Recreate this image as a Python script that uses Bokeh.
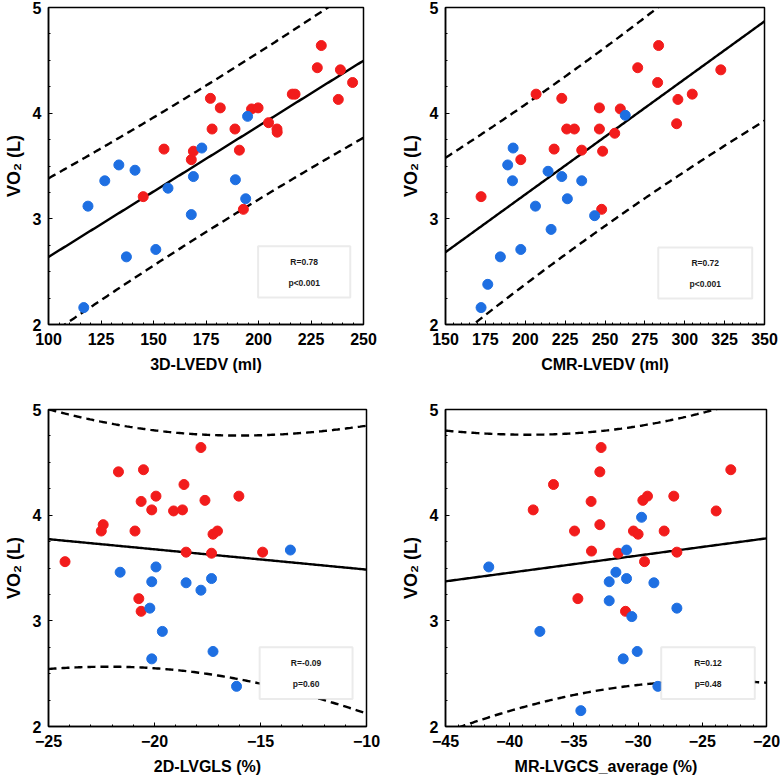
import numpy as np
from bokeh.plotting import figure
from bokeh.layouts import column, row
from bokeh.models import BoxAnnotation, Label, FixedTicker
from bokeh.embed import file_html
from bokeh.resources import INLINE

# ---------------- data ----------------
# Panel A: 3D-LVEDV (ml) vs VO2 (L)
a_blue_x = [116.8, 118.8, 126.8, 133.5, 141.2, 137.1, 151.1, 156.9, 168.0, 169.0, 173.0, 189.0, 193.9, 194.8]
a_blue_y = [2.16, 3.12, 3.36, 3.51, 3.46, 2.64, 2.71, 3.29, 3.04, 3.40, 3.67, 3.37, 3.19, 3.97]
a_red_x = [145.1, 155.0, 168.0, 169.0, 177.1, 177.9, 181.8, 188.8, 190.9, 192.8, 196.7, 199.8,
           204.8, 208.8, 208.9, 216.1, 217.4, 228.0, 229.9, 238.0, 239.0, 244.8]
a_red_y = [3.21, 3.66, 3.56, 3.64, 4.14, 3.85, 4.05, 3.85, 3.65, 3.09, 4.04, 4.05,
           3.91, 3.85, 3.82, 4.18, 4.18, 4.43, 4.64, 4.13, 4.41, 4.29]

# Panel B: CMR-LVEDV (ml) vs VO2 (L)
b_blue_x = [172.3, 176.5, 184.4, 189.0, 192.0, 192.4, 197.2, 206.4, 214.3, 216.2, 222.9, 226.4, 235.4, 243.5, 262.7]
b_blue_y = [2.16, 2.38, 2.64, 3.51, 3.36, 3.67, 2.71, 3.12, 3.45, 2.90, 3.40, 3.19, 3.36, 3.03, 3.98]
b_red_x = [172.3, 197.2, 206.8, 218.1, 222.9, 226.0, 230.8, 235.4, 246.5, 246.5, 247.9, 248.5,
           256.1, 259.6, 270.5, 283.0, 283.6, 294.9, 295.7, 304.7, 322.6]
b_red_y = [3.21, 3.56, 4.18, 3.66, 4.14, 3.85, 3.85, 3.65, 4.05, 3.85, 3.09, 3.64,
           3.81, 4.04, 4.43, 4.29, 4.64, 3.90, 4.13, 4.18, 4.41]

# Panel C: 2D-LVGLS (%) vs VO2 (L)
c_blue_x = [-21.62, -20.13, -19.93, -20.22, -19.63, -20.13, -18.51, -17.81, -17.31, -17.24, -16.13, -13.59]
c_blue_y = [3.46, 3.37, 3.51, 3.12, 2.90, 2.64, 3.36, 3.29, 3.40, 2.71, 2.38, 3.67]
c_red_x = [-24.22, -22.51, -22.42, -21.70, -20.92, -20.74, -20.63, -20.63, -20.52, -20.13, -19.93,
           -19.10, -18.68, -18.61, -18.51, -17.81, -17.62, -17.31, -17.24, -17.03, -16.02, -14.90]
c_red_y = [3.56, 3.85, 3.91, 4.41, 3.85, 3.21, 4.13, 3.09, 4.43, 4.05, 4.18,
           4.04, 4.05, 4.29, 3.65, 4.64, 4.14, 3.64, 3.82, 3.85, 4.18, 3.65]

# Panel D: MR-LVGCS_average (%) vs VO2 (L)
d_blue_x = [-41.63, -37.65, -34.46, -32.25, -32.25, -31.73, -31.16, -30.90, -30.90, -30.49,
            -30.07, -29.73, -28.77, -28.46, -26.98]
d_blue_y = [3.51, 2.90, 2.15, 3.37, 3.19, 3.46, 2.64, 3.67, 3.40, 3.04, 2.71, 3.98, 3.36, 2.38, 3.12]
d_red_x = [-38.17, -36.59, -34.95, -34.69, -33.66, -33.63, -32.98, -32.88, -32.98, -31.55, -30.98,
           -30.36, -30.00, -29.63, -29.50, -29.27, -27.97, -27.22, -26.98, -23.92, -22.78]
d_red_y = [4.05, 4.29, 3.85, 3.21, 4.13, 3.66, 4.41, 4.64, 3.91, 3.64, 3.09,
           3.85, 3.82, 4.14, 3.56, 4.18, 3.85, 4.18, 3.65, 4.04, 4.43]

x_titles = ["3D-LVEDV (ml)", "CMR-LVEDV (ml)", "2D-LVGLS (%)", "MR-LVGCS_average (%)"]
y_title = "VO\u2082 (L)"
r_texts = ["R=0.78", "R=0.72", "R=-0.09", "R=0.12"]
p_texts = ["p<0.001", "p<0.001", "p=0.60", "p=0.48"]

a_xticks = [100, 125, 150, 175, 200, 225, 250]
b_xticks = [150, 175, 200, 225, 250, 275, 300, 325, 350]
c_xticks = [-25, -20, -15, -10]
d_xticks = [-45, -40, -35, -30, -25, -20]
y_ticks = [2, 3, 4, 5]

RED = "#f21c1c"
BLUE = "#1e6fe2"
FONT = "Liberation Sans"


def band(x, y, xs, t=2.03):
    x = np.asarray(x, float)
    y = np.asarray(y, float)
    n = len(x)
    slope, icpt = np.polyfit(x, y, 1)
    resid = y - (icpt + slope * x)
    s = np.sqrt(np.sum(resid ** 2) / (n - 2))
    xbar = x.mean()
    sxx = np.sum((x - xbar) ** 2)
    yhat = icpt + slope * xs
    half = t * s * np.sqrt(1 + 1 / n + (xs - xbar) ** 2 / sxx)
    return yhat, yhat + half, yhat - half


def panel(bx, by, rx, ry, xrange_, xticks, xminor, xtitle, rtxt, ptxt, box, txt_y,
          bl, br, bt, bb, w, h):
    p = figure(x_range=xrange_, y_range=(2, 5), width=w, height=h,
               min_border_left=bl, min_border_right=br, min_border_top=bt, min_border_bottom=bb,
               output_backend="svg", toolbar_location=None, tools="")
    p.grid.visible = False
    p.outline_line_color = "black"
    p.outline_line_width = 1.5
    p.background_fill_color = "white"
    p.border_fill_color = "white"

    allx = list(bx) + list(rx)
    ally = list(by) + list(ry)
    xs = np.linspace(xrange_[0], xrange_[1], 200)
    yhat, up, lo = band(allx, ally, xs)
    p.line(xs, yhat, line_color="black", line_width=2.4)
    p.line(xs, up, line_color="black", line_width=2.4, line_dash="8 5")
    p.line(xs, lo, line_color="black", line_width=2.4, line_dash="8 5")

    p.scatter(rx, ry, size=10, fill_color=RED, line_color=RED)
    p.scatter(bx, by, size=10, fill_color=BLUE, line_color=BLUE)

    p.add_layout(BoxAnnotation(left=box[0], right=box[1], bottom=box[2], top=box[3],
                               fill_color="white", fill_alpha=1.0,
                               line_color="#bcbcbc", line_width=2))
    cx = (box[0] + box[1]) / 2
    for t, yy in zip([rtxt, ptxt], txt_y):
        p.add_layout(Label(x=cx, y=yy, text=t, text_align="center", text_baseline="middle",
                           text_font_size="8.5px", text_font_style="bold",
                           text_font=FONT, text_color="#1a1a1a"))

    yminor = [2 + 0.25 * i for i in range(13)]
    p.xaxis.ticker = FixedTicker(ticks=xticks, minor_ticks=xminor)
    p.yaxis.ticker = FixedTicker(ticks=y_ticks, minor_ticks=yminor)
    for ax in (p.xaxis[0], p.yaxis[0]):
        ax.major_tick_in = 4
        ax.major_tick_out = 0
        ax.minor_tick_in = 2
        ax.minor_tick_out = 0
        ax.axis_line_width = 1.5
        ax.major_label_text_font = FONT
        ax.major_label_text_font_style = "bold"
        ax.major_label_text_font_size = "16px"
        ax.major_label_text_color = "black"
        ax.axis_label_text_font = FONT
        ax.axis_label_text_font_style = "bold"
        ax.axis_label_text_color = "black"
    p.xaxis.axis_label_text_font_size = "16px"
    p.yaxis.axis_label_text_font_size = "18px"
    p.xaxis.axis_label = xtitle
    p.yaxis.axis_label = y_title
    p.xaxis.major_label_standoff = 8
    p.xaxis.axis_label_standoff = 8
    p.yaxis.major_label_standoff = 7
    p.yaxis.axis_label_standoff = 6
    return p


p1 = panel(a_blue_x, a_blue_y, a_red_x, a_red_y, (100, 250), a_xticks, list(range(100, 251, 5)),
           x_titles[0], r_texts[0], p_texts[0], (199.8, 243.7, 2.255, 2.74), (2.59, 2.39),
           44, 27, 7, 66, 390, 390)
p2 = panel(b_blue_x, b_blue_y, b_red_x, b_red_y, (150, 350), b_xticks, list(range(150, 351, 5)),
           x_titles[1], r_texts[1], p_texts[1], (283.4, 342.3, 2.246, 2.729), (2.58, 2.385),
           55, 16, 7, 66, 390, 390)
p3 = panel(c_blue_x, c_blue_y, c_red_x, c_red_y, (-25, -10), c_xticks, list(range(-25, -9)),
           x_titles[2], r_texts[2], p_texts[2], (-15.04, -10.66, 2.26, 2.75), (2.60, 2.40),
           44, 24, 19, 52, 390, 388)
p4 = panel(d_blue_x, d_blue_y, d_red_x, d_red_y, (-45, -20), d_xticks, list(range(-45, -19)),
           x_titles[3], r_texts[3], p_texts[3], (-28.2, -20.91, 2.26, 2.75), (2.60, 2.40),
           55, 14, 19, 52, 390, 388)

layout = column(row(p1, p2, spacing=0), row(p3, p4, spacing=0), spacing=0)
open("out.html", "w").write(file_html(layout, INLINE))
